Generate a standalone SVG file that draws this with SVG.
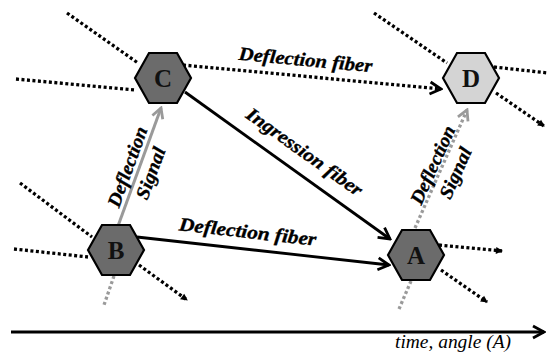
<svg xmlns="http://www.w3.org/2000/svg" width="548" height="356" viewBox="0 0 548 356">
<style>
.hex{stroke:#000;stroke-width:2.2}
.dark{fill:#6b6b6b}
.light{fill:#d4d4d4}
.nl{font-family:"Liberation Serif",serif;font-weight:bold;font-size:25px;fill:#111;text-anchor:middle}
.lab{font-family:"Liberation Serif",serif;font-weight:bold;font-style:italic;font-size:19px;fill:#000;stroke:#000;stroke-width:0.35;text-anchor:middle}
.ax{font-family:"Liberation Serif",serif;font-style:italic;font-size:18px;fill:#000}
.dot{stroke:#000;stroke-width:3.3;stroke-dasharray:3 2.5;fill:none}
.gdot{stroke:#9a9a9a;stroke-width:3.3;stroke-dasharray:3 2.5;fill:none}
.solid{stroke:#000;stroke-width:2.8;fill:none}
.gsolid{stroke:#9a9a9a;stroke-width:3;fill:none}
</style>
<defs>
<marker id="chev" viewBox="-14 -8 16 16" markerWidth="16" markerHeight="16" refX="0" refY="0" orient="auto" markerUnits="userSpaceOnUse">
<path d="M-11,-6 L0,0 L-11,6" fill="none" stroke="#000" stroke-width="2.8"/>
</marker>
<marker id="gchev" viewBox="-14 -8 16 16" markerWidth="16" markerHeight="16" refX="0" refY="0" orient="auto" markerUnits="userSpaceOnUse">
<path d="M-10,-5.5 L0,0 L-10,5.5" fill="none" stroke="#9a9a9a" stroke-width="2.8"/>
</marker>
<marker id="tri" viewBox="-8 -5 10 10" markerWidth="10" markerHeight="10" refX="0" refY="0" orient="auto" markerUnits="userSpaceOnUse">
<path d="M-6,-3.5 L1,0 L-6,3.5 Z" fill="#000"/>
</marker>
</defs>

<g id="connectors">
<line class="dot" x1="67" y1="13" x2="138" y2="63"/>
<line class="dot" x1="16" y1="79" x2="136" y2="90"/>
<line class="dot" x1="374" y1="13" x2="447" y2="63"/>
<line class="dot" x1="494" y1="67" x2="548" y2="73"/>
<line class="dot" x1="496" y1="93" x2="544" y2="126" marker-end="url(#tri)"/>
<line class="dot" x1="20" y1="183" x2="92" y2="237"/>
<line class="dot" x1="14" y1="249" x2="88" y2="257"/>
<line class="dot" x1="139" y1="265" x2="187" y2="300" marker-end="url(#tri)"/>
<line class="dot" x1="439" y1="245" x2="502" y2="251" marker-end="url(#tri)"/>
<line class="dot" x1="441" y1="270" x2="487" y2="302" marker-end="url(#tri)"/>
<line class="gdot" x1="114" y1="276" x2="104" y2="305"/>
<line class="gdot" x1="411" y1="281" x2="399" y2="309"/>
<line class="dot" x1="183" y1="65" x2="441" y2="89" marker-end="url(#chev)"/>
<line class="solid" x1="185" y1="92" x2="390" y2="239" marker-end="url(#chev)"/>
<line class="solid" x1="137" y1="237" x2="389" y2="265" marker-end="url(#chev)"/>
<line class="gsolid" x1="118" y1="226" x2="161" y2="108" marker-end="url(#gchev)"/>
<line class="gdot" x1="415" y1="228" x2="467" y2="110" marker-end="url(#gchev)"/>
<line class="solid" x1="11" y1="332" x2="544" y2="332" marker-end="url(#chev)"/>
<text class="lab" transform="translate(305,66) rotate(5.3)" textLength="134" lengthAdjust="spacingAndGlyphs">Deflection fiber</text>
<text class="lab" transform="translate(247,238) rotate(6.5)" textLength="138" lengthAdjust="spacingAndGlyphs">Deflection fiber</text>
<text class="lab" transform="translate(301,157) rotate(35.5)" textLength="138" lengthAdjust="spacingAndGlyphs">Ingression fiber</text>
<g transform="translate(139,171) rotate(-70)">
<text class="lab" x="0" y="-6" textLength="84" lengthAdjust="spacingAndGlyphs">Deflection</text>
<text class="lab" x="2" y="18" textLength="54" lengthAdjust="spacingAndGlyphs">Signal</text>
</g>
<g transform="translate(444,170) rotate(-65.8)">
<text class="lab" x="0" y="-6" textLength="84" lengthAdjust="spacingAndGlyphs">Deflection</text>
<text class="lab" x="2" y="18" textLength="54" lengthAdjust="spacingAndGlyphs">Signal</text>
</g>
<text class="ax" x="395" y="348" textLength="116" lengthAdjust="spacingAndGlyphs">time, angle (A)</text>
</g>

<g id="C"><polygon class="hex dark" points="135,78 149,53 177,53 191,78 177,103 149,103"/><text class="nl" x="163" y="87">C</text></g>
<g id="D"><polygon class="hex light" points="443,78 457,53 485,53 499,78 485,103 457,103"/><text class="nl" x="471" y="87">D</text></g>
<g id="B"><polygon class="hex dark" points="88,250 102,225 130,225 144,250 130,275 102,275"/><text class="nl" x="116" y="259">B</text></g>
<g id="A"><polygon class="hex dark" points="388,255 402,230 430,230 444,255 430,280 402,280"/><text class="nl" x="416" y="264">A</text></g>
</svg>
